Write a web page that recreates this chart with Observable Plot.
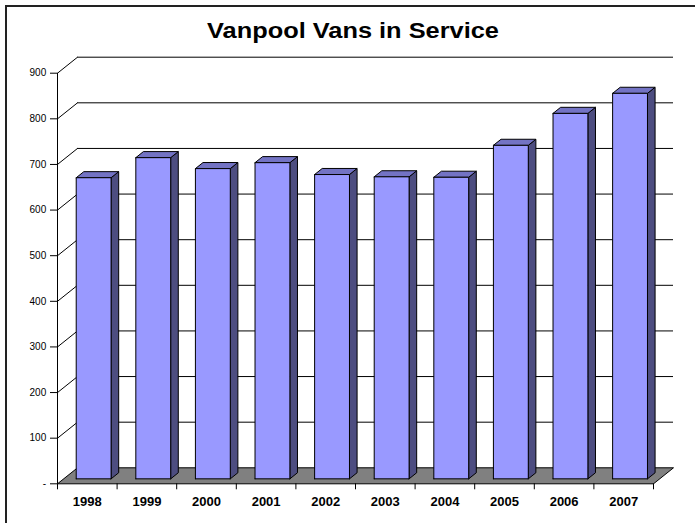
<!DOCTYPE html>
<html>
<head>
<meta charset="utf-8">
<script src="https://cdn.jsdelivr.net/npm/d3@7"></script>
<script src="https://cdn.jsdelivr.net/npm/@observablehq/plot@0.6"></script>
<style>
  html, body { margin: 0; padding: 0; background: #fff; }
  #wrap { position: relative; width: 695px; height: 523px; overflow: hidden; font-family: "Liberation Sans", Arial, sans-serif; }
  #frame { position: absolute; left: 5px; top: 5px; width: 900px; height: 900px; border-left: 2px solid #222; border-top: 2px solid #222; box-sizing: border-box; }
  #title { position: absolute; left: 352.5px; top: 21px; white-space: nowrap; font-weight: bold; font-size: 21.5px; line-height: 1; color: #000; transform: translateX(-50%) scaleX(1.18); }
  #chart { position: absolute; left: 0; top: 0; }
</style>
</head>
<body>
<div id="wrap">
  <div id="frame"></div>
  <div id="chart"></div>
  <div id="title">Vanpool Vans in Service</div>
</div>
<script>
// ---- data ----
const years = ["1998", "1999", "2000", "2001", "2002", "2003", "2004", "2005", "2006", "2007"];
const vans = [660, 704, 680, 693, 667, 662, 661, 731, 801, 845];
const yTicks = [0, 100, 200, 300, 400, 500, 600, 700, 800, 900];
const yTickLabels = ["-", "100", "200", "300", "400", "500", "600", "700", "800", "900"];

// ---- layout (pixels) ----
const W = 695, H = 523;
const plotLeft = 57, plotRight = 653, plotTop = 72.7, plotBottom = 483.3;
const yMax = 900;
const ux = (plotRight - plotLeft) / years.length;   // px per category
const uy = (plotBottom - plotTop) / yMax;           // px per value unit
const depthPx = 20, depthPy = 16;                   // oblique depth of the floor
const Dx = depthPx / ux, Dy = depthPy / uy;         // depth in data units
const barL = 0.21, barR = 0.795;                    // bar width within category
const t0 = 0.31, t1 = 0.69;                         // bar depth range

const proj = (xu, v, t) => ({x: xu + t * Dx, y: v + t * Dy});

// faces of the bars, built from the data
const front = [], side = [], topFace = [];
years.forEach((yr, i) => {
  const v = vans[i], L = i + barL, R = i + barR;
  [[L,0,t0],[R,0,t0],[R,v,t0],[L,v,t0],[L,0,t0]].forEach(p => front.push({year: yr, ...proj(...p)}));
  [[R,0,t0],[R,0,t1],[R,v,t1],[R,v,t0],[R,0,t0]].forEach(p => side.push({year: yr, ...proj(...p)}));
  [[L,v,t0],[R,v,t0],[R,v,t1],[L,v,t1],[L,v,t0]].forEach(p => topFace.push({year: yr, ...proj(...p)}));
});
const n = years.length;
const floor = [[0,0,0],[n,0,0],[n,0,1],[0,0,1],[0,0,0]].map(p => proj(...p));
const gridTicks = yTicks.filter(d => d > 0);
const boundaries = d3.range(n + 1);

const chart = Plot.plot({
  width: W,
  height: H,
  marginLeft: plotLeft,
  marginRight: W - plotRight,
  marginTop: plotTop,
  marginBottom: H - plotBottom,
  x: {type: "linear", domain: [0, n], axis: null},
  y: {type: "linear", domain: [0, yMax], axis: null},
  style: {background: "transparent", fontFamily: "'Liberation Sans', Arial, sans-serif", color: "#000"},
  marks: [
    // back wall gridlines
    Plot.ruleY(gridTicks, {y: d => d, x1: 0, x2: n, dx: depthPx, dy: -depthPy, stroke: "#000", strokeWidth: 1}),
    // side wall gridlines
    Plot.link(gridTicks, {x1: 0, y1: d => d, x2: Dx, y2: d => d + Dy, stroke: "#000", strokeWidth: 1}),
    // floor
    Plot.line(floor, {x: "x", y: "y", fill: "#808080", stroke: "#000", strokeWidth: 1}),
    // bars
    Plot.line(side, {x: "x", y: "y", z: "year", fill: "#4d4d80", stroke: "#000", strokeWidth: 1, strokeLinejoin: "round"}),
    Plot.line(topFace, {x: "x", y: "y", z: "year", fill: "#7373c4", stroke: "#000", strokeWidth: 1, strokeLinejoin: "round"}),
    Plot.line(front, {x: "x", y: "y", z: "year", fill: "#9999ff", stroke: "#000", strokeWidth: 1, strokeLinejoin: "round"}),
    // front value axis
    Plot.ruleX([0], {x: d => d, y1: 0, y2: yMax, stroke: "#000", strokeWidth: 1}),
    Plot.ruleY(yTicks, {y: d => d, x1: -7 / ux, x2: 0, stroke: "#000", strokeWidth: 1}),
    Plot.text(yTicks, {x: 0, y: d => d, text: (d, i) => yTickLabels[i], textAnchor: "end", dx: -11.3, fontSize: 10, fill: "#000"}),
    // category axis
    Plot.ruleX(boundaries, {x: d => d, y1: 0, y2: -6 / uy, stroke: "#000", strokeWidth: 1}),
    Plot.text(years, {x: (d, i) => i + 0.5, y: 0, dy: 18, text: d => d, fontSize: 13, fontWeight: "bold", fill: "#000"})
  ]
});
document.getElementById("chart").appendChild(chart);
</script>
</body>
</html>
